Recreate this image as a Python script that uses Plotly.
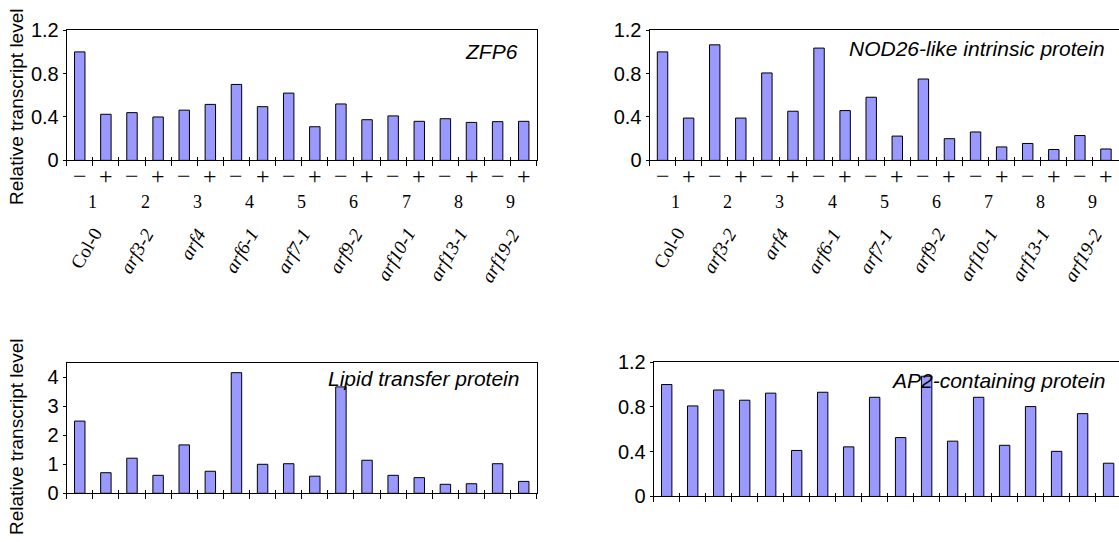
import plotly.graph_objects as go

# ---------------- data ----------------
genotypes = ["Col-0", "arf3-2", "arf4", "arf6-1", "arf7-1", "arf9-2", "arf10-1", "arf13-1", "arf19-2"]
line_numbers = ["1", "2", "3", "4", "5", "6", "7", "8", "9"]
treatments = ["\u2212", "+"]

zfp6 = [1.00, 0.425, 0.44, 0.40, 0.463, 0.516, 0.70, 0.495, 0.62, 0.31,
        0.52, 0.375, 0.41, 0.36, 0.384, 0.35, 0.357, 0.36]
nod26 = [1.00, 0.39, 1.065, 0.39, 0.806, 0.453, 1.035, 0.459, 0.582, 0.224,
         0.75, 0.20, 0.262, 0.124, 0.156, 0.10, 0.229, 0.105]
ltp = [2.49, 0.71, 1.21, 0.62, 1.67, 0.76, 4.16, 1.00, 1.02, 0.59,
       3.67, 1.14, 0.62, 0.54, 0.31, 0.33, 1.02, 0.41]
ap2 = [1.00, 0.809, 0.951, 0.86, 0.923, 0.411, 0.931, 0.443, 0.886, 0.526,
       1.074, 0.494, 0.886, 0.457, 0.803, 0.403, 0.74, 0.297]

gene_names = ["ZFP6", "NOD26-like intrinsic protein", "Lipid transfer protein", "AP2-containing protein"]
series = [zfp6, nod26, ltp, ap2]
y_tick_vals = [[0, 0.4, 0.8, 1.2], [0, 0.4, 0.8, 1.2], [0, 1, 2, 3, 4], [0, 0.4, 0.8, 1.2]]
y_tick_text = [["0", "0.4", "0.8", "1.2"], ["0", "0.4", "0.8", "1.2"],
               ["0", "1", "2", "3", "4"], ["0", "0.4", "0.8", "1.2"]]
y_title = "Relative transcript level"

# ---------------- layout geometry (pixels) ----------------
W, H = 1119, 542
def fx(p): return p / W
def fy(p): return 1 - p / H

panels = [
    dict(x0=66.7, x1=536.8, y0=20.0, y1=155.7, xmax=17.5, ymax=1.2, labels=True, mirror_y=True,
         name_right=520, name_y=42.7, title_y=100),
    dict(x0=649.5, x1=1119, y0=20.0, y1=155.7, xmax=17.5, ymax=1.2, labels=True, mirror_y=False,
         name_right=1107, name_y=39.5, title_y=None),
    dict(x0=66.7, x1=536.8, y0=366.7, y1=502.7, xmax=17.5, ymax=4.5, labels=False, mirror_y=True,
         name_right=521.4, name_y=383.3, title_y=444),
    dict(x0=653.7, x1=1119, y0=366.0, y1=506.0, xmax=17.4, ymax=1.2, labels=False, mirror_y=False,
         name_right=1107, name_y=385, title_y=None),
]

n_bars = len(genotypes) * len(treatments)
bar_x = list(range(n_bars))
boundaries = [i - 0.5 for i in range(n_bars + 1)]

SANS = "Liberation Sans, Arial, sans-serif"
SERIF = "Liberation Serif, Times New Roman, serif"

fig = go.Figure()
layout = dict(
    width=W, height=H, margin=dict(l=0, r=0, t=0, b=0),
    paper_bgcolor="white", plot_bgcolor="white", showlegend=False,
)
annotations = []

for i, (p, vals) in enumerate(zip(panels, series), start=1):
    xa, ya, xo = f"x{i}", f"y{i}", f"x{i+4}"
    fig.add_trace(go.Bar(
        x=bar_x, y=vals, xaxis=xa, yaxis=ya, width=0.4,
        marker=dict(color="#9999ff", line=dict(color="black", width=1)),
    ))
    # empty trace so the overlay axis (upper part of the crossing ticks) is drawn
    fig.add_trace(go.Scatter(x=[], y=[], xaxis=xo, yaxis=ya, showlegend=False))

    layout[f"xaxis{i}"] = dict(
        domain=[fx(p["x0"]), fx(p["x1"])], anchor=ya, range=[-0.5, p["xmax"]],
        showgrid=False, zeroline=False, showline=True, linecolor="black", linewidth=1,
        mirror=True, tickmode="array", tickvals=boundaries, ticks="outside",
        ticklen=5, tickcolor="black", tickwidth=1, showticklabels=False,
    )
    layout[f"xaxis{i+4}"] = dict(
        domain=[fx(p["x0"]), fx(p["x1"])], anchor=ya, overlaying=xa, range=[-0.5, p["xmax"]],
        showgrid=False, zeroline=False, showline=False, side="bottom",
        tickmode="array", tickvals=boundaries, ticks="inside",
        ticklen=3, tickcolor="black", tickwidth=1, showticklabels=False,
    )
    layout[f"yaxis{i}"] = dict(
        domain=[fy(p["y1"]), fy(p["y0"])], anchor=xa, range=[0, p["ymax"]],
        showgrid=False, zeroline=False, showline=True, linecolor="black", linewidth=1,
        mirror=p["mirror_y"], tickmode="array", tickvals=y_tick_vals[i - 1],
        ticktext=y_tick_text[i - 1], ticks="outside", ticklen=3, tickcolor="black",
        tickfont=dict(family=SANS, size=20, color="black"),
    )

    # gene name
    annotations.append(dict(
        text=f"<i>{gene_names[i - 1]}</i>", xref="paper", yref="paper",
        x=fx(p["name_right"]), y=fy(p["name_y"]), xanchor="right", yanchor="middle",
        showarrow=False, font=dict(family=SANS, size=21, color="black"),
    ))

    # y title
    if p["title_y"] is not None:
        annotations.append(dict(
            text=y_title, xref="paper", yref="paper", x=fx(17), y=fy(p["title_y"]),
            xanchor="center", yanchor="middle", textangle=-90, showarrow=False,
            font=dict(family=SANS, size=19, color="black"),
        ))

    if p["labels"]:
        for k in bar_x:
            annotations.append(dict(
                text=treatments[k % 2], xref=xa, yref="paper", x=k, y=fy(172),
                xanchor="center", yanchor="middle", showarrow=False,
                font=dict(family=SERIF, size=24, color="black"),
            ))
        for g, (num, name) in enumerate(zip(line_numbers, genotypes)):
            cx = 2 * g + 0.5
            annotations.append(dict(
                text=num, xref=xa, yref="paper", x=cx, y=fy(199),
                xanchor="center", yanchor="middle", showarrow=False,
                font=dict(family=SERIF, size=18, color="black"),
            ))
            label = name if name == "Col-0" else f"<i>{name}</i>"
            annotations.append(dict(
                text=label, xref=xa, yref="paper", x=cx, y=fy(220),
                xanchor="right", yanchor="top", textangle=-60, xshift=16,
                showarrow=False, font=dict(family=SERIF, size=19, color="black"),
            ))

layout["annotations"] = annotations
fig.update_layout(**layout)
fig.write_html(
    "out.html",
    config={"displayModeBar": False},
    post_script="document.body.style.margin='0px';document.body.style.overflow='hidden';",
)
